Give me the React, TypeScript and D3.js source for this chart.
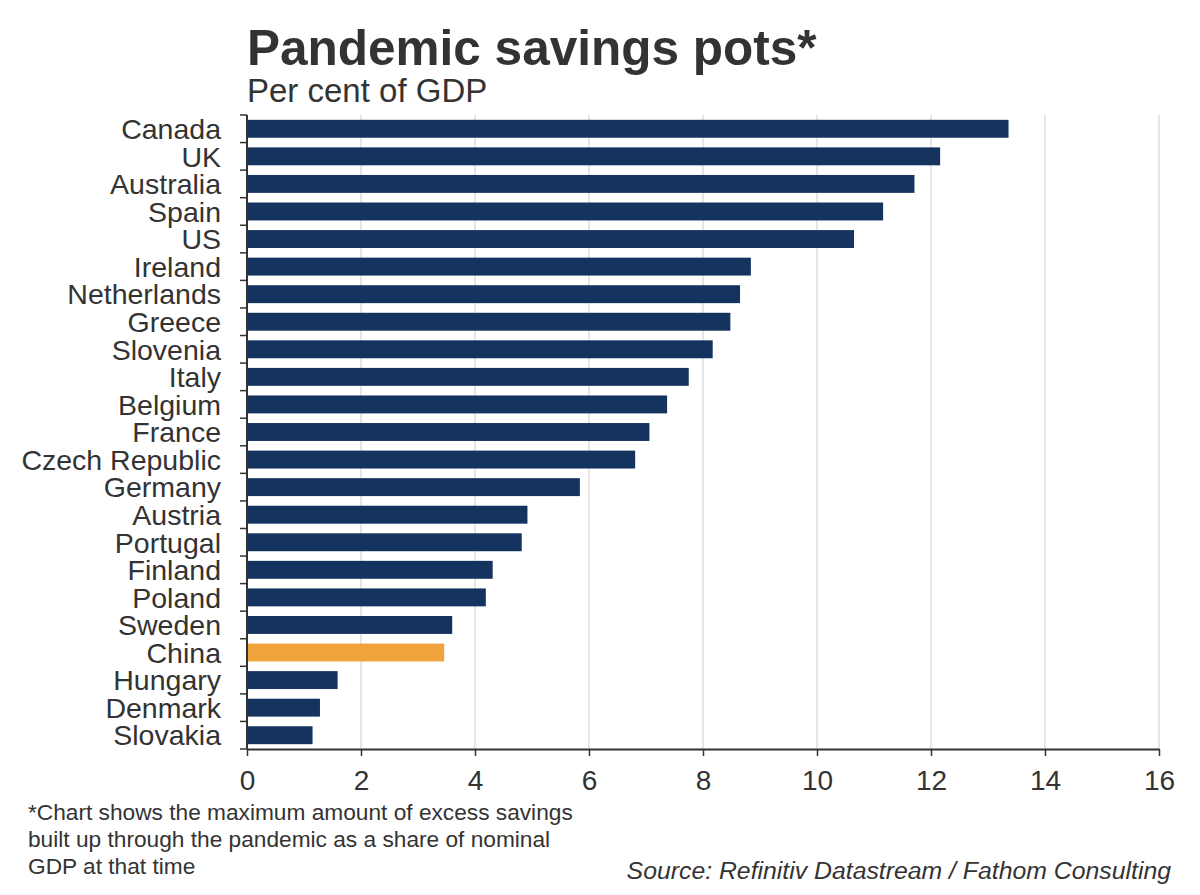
import { useEffect, useRef } from "react";
import * as d3 from "d3";

// countries, top to bottom
const countries = [
  "Canada", "UK", "Australia", "Spain", "US", "Ireland", "Netherlands", "Greece",
  "Slovenia", "Italy", "Belgium", "France", "Czech Republic", "Germany", "Austria",
  "Portugal", "Finland", "Poland", "Sweden", "China", "Hungary", "Denmark", "Slovakia",
];

// excess savings, per cent of GDP
const savings = [
  13.36, 12.16, 11.71, 11.16, 10.65, 8.84, 8.65, 8.48,
  8.17, 7.75, 7.37, 7.06, 6.81, 5.84, 4.92,
  4.82, 4.31, 4.19, 3.60, 3.46, 1.59, 1.28, 1.15,
];

const xTicks = [0, 2, 4, 6, 8, 10, 12, 14, 16];
const highlight = ["China"];

const footnoteLines = [
  "*Chart shows the maximum amount of excess savings",
  "built up through the pandemic as a share of nominal",
  "GDP at that time",
];

export default function App() {
  const svgRef = useRef<SVGSVGElement | null>(null);

  useEffect(() => {
    document.body.style.margin = "0";

    const width = 1200;
    const height = 895;
    const marginTop = 115;
    const marginLeft = 247;
    const marginRight = 41;
    const marginBottom = 146;
    const font = "'Liberation Sans', Arial, Helvetica, sans-serif";
    const textColor = "#333333";

    const data = countries.map((c, i) => ({ country: c, value: savings[i] }));

    const x = d3.scaleLinear()
      .domain([0, 16])
      .range([marginLeft, width - marginRight]);

    const y = d3.scaleBand<string>()
      .domain(countries)
      .range([marginTop, height - marginBottom])
      .paddingInner(0.35)
      .paddingOuter(0.175);

    const svg = d3.select(svgRef.current)
      .attr("width", width)
      .attr("height", height)
      .attr("viewBox", `0 0 ${width} ${height}`)
      .style("font-family", font);

    svg.selectAll("*").remove();

    svg.append("rect")
      .attr("width", width)
      .attr("height", height)
      .attr("fill", "#ffffff");

    // Title and subtitle
    svg.append("text")
      .attr("x", marginLeft)
      .attr("y", 65)
      .attr("font-size", 49.5)
      .attr("font-weight", "bold")
      .attr("fill", textColor)
      .text("Pandemic savings pots*");

    svg.append("text")
      .attr("x", marginLeft)
      .attr("y", 102)
      .attr("font-size", 33)
      .attr("fill", textColor)
      .text("Per cent of GDP");

    // Gridlines
    svg.append("g")
      .selectAll("line")
      .data(xTicks.filter(d => d > 0))
      .enter()
      .append("line")
      .attr("x1", d => x(d))
      .attr("x2", d => x(d))
      .attr("y1", marginTop)
      .attr("y2", height - marginBottom)
      .attr("stroke", "#dcdcdc")
      .attr("stroke-width", 1.5);

    // Bars
    svg.append("g")
      .selectAll("rect")
      .data(data)
      .enter()
      .append("rect")
      .attr("x", x(0))
      .attr("y", d => y(d.country)!)
      .attr("width", d => x(d.value) - x(0))
      .attr("height", y.bandwidth())
      .attr("fill", d => highlight.includes(d.country) ? "#f0a23b" : "#15335f");

    // X axis
    svg.append("g")
      .attr("transform", `translate(0,${height - marginBottom})`)
      .call(d3.axisBottom(x).tickValues(xTicks).tickSize(7).tickPadding(14).tickSizeOuter(0))
      .call(g => g.select(".domain").attr("stroke", "#333").attr("stroke-width", 2))
      .call(g => g.selectAll(".tick line").attr("stroke", "#333").attr("stroke-width", 1.5))
      .call(g => g.selectAll(".tick text")
        .attr("font-size", 28)
        .attr("font-family", font)
        .attr("fill", textColor));

    // Y axis: line, ticks at band boundaries, labels
    const step = y.step();
    const y0 = marginTop;
    const boundaries = d3.range(countries.length + 1).map(i => y0 + i * step);

    const yAxis = svg.append("g");
    yAxis.append("line")
      .attr("x1", x(0))
      .attr("x2", x(0))
      .attr("y1", y0)
      .attr("y2", height - marginBottom)
      .attr("stroke", "#333")
      .attr("stroke-width", 2);

    yAxis.selectAll(".ytick")
      .data(boundaries)
      .enter()
      .append("line")
      .attr("class", "ytick")
      .attr("x1", x(0) - 7)
      .attr("x2", x(0))
      .attr("y1", d => d)
      .attr("y2", d => d)
      .attr("stroke", "#333")
      .attr("stroke-width", 1.5);

    yAxis.selectAll(".ylabel")
      .data(countries)
      .enter()
      .append("text")
      .attr("class", "ylabel")
      .attr("x", 221)
      .attr("y", d => y(d)! + y.bandwidth() / 2)
      .attr("dy", "0.36em")
      .attr("text-anchor", "end")
      .attr("font-size", 28.5)
      .attr("fill", textColor)
      .text(d => d);

    // Footnote
    svg.append("g")
      .selectAll("text")
      .data(footnoteLines)
      .enter()
      .append("text")
      .attr("x", 28)
      .attr("y", (_, i) => 820 + i * 27)
      .attr("font-size", 22.7)
      .attr("fill", textColor)
      .text(d => d);

    // Source
    svg.append("text")
      .attr("x", 1171)
      .attr("y", 879)
      .attr("text-anchor", "end")
      .attr("font-size", 24.8)
      .attr("font-style", "italic")
      .attr("fill", textColor)
      .text("Source: Refinitiv Datastream / Fathom Consulting");
  }, []);

  return <svg ref={svgRef} style={{ display: "block" }} />;
}
